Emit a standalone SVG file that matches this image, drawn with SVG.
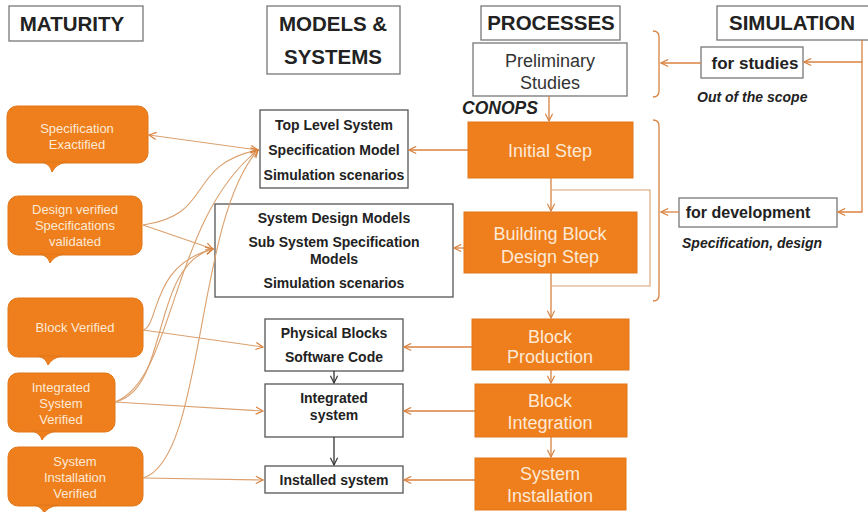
<svg xmlns="http://www.w3.org/2000/svg" width="868" height="512" viewBox="0 0 868 512">
<defs>
<marker id="ah" viewBox="0 0 10 10" refX="9" refY="5" markerWidth="9" markerHeight="9" markerUnits="userSpaceOnUse" orient="auto-start-reverse">
<path d="M1,1 L9,5 L1,9" fill="none" stroke="#d9823f" stroke-width="1.3"/>
</marker>
<marker id="ahk" viewBox="0 0 10 10" refX="9" refY="5" markerWidth="9" markerHeight="9" markerUnits="userSpaceOnUse" orient="auto">
<path d="M1,1 L9,5 L1,9" fill="none" stroke="#333" stroke-width="1.3"/>
</marker>
</defs>
<style>
.hdr{fill:#fff;stroke:#777;stroke-width:1.3}
.ht{font-family:"Liberation Sans",Arial,sans-serif;font-weight:bold;font-size:20.5px;fill:#222;text-anchor:middle}
.box{fill:#fff;stroke:#555;stroke-width:1.3}
.bt{font-family:"Liberation Sans",Arial,sans-serif;font-weight:bold;font-size:14px;fill:#222;text-anchor:middle}
.proc{fill:#ee7f1c;stroke:#e0761a;stroke-width:1}
.pt{font-family:"Liberation Sans",Arial,sans-serif;font-size:18px;fill:#fde9d6;text-anchor:middle}
.cal{fill:#ee7f1c;stroke:#e0761a;stroke-width:1}
.ct{font-family:"Liberation Sans",Arial,sans-serif;font-size:13px;fill:#fde9d6;text-anchor:middle}
.ln{fill:none;stroke:#d9823f;stroke-width:1.3}
.thin{fill:none;stroke:#dba06e;stroke-width:1.1}
.it{font-family:"Liberation Sans",Arial,sans-serif;font-weight:bold;font-style:italic;fill:#222}
</style>
<rect width="868" height="512" fill="#fff"/>

<g id="hdr-maturity"><rect class="hdr" x="9" y="6" width="134" height="35"/><text class="ht" x="72" y="31">MATURITY</text></g>
<g id="hdr-models"><rect class="hdr" x="267" y="6" width="133" height="68"/><text class="ht" x="333" y="31">MODELS &amp;</text><text class="ht" x="333" y="64">SYSTEMS</text></g>
<g id="hdr-processes"><rect class="hdr" x="481" y="6" width="139" height="34"/><text class="ht" x="551" y="30" font-size="20">PROCESSES</text></g>
<g id="hdr-simulation"><rect class="hdr" x="717" y="6" width="155" height="34"/><text class="ht" x="792" y="30">SIMULATION</text></g>

<g id="prelim"><rect class="hdr" x="473" y="43" width="154" height="53"/>
<text x="550" y="67" font-family="Liberation Sans,Arial,sans-serif" font-size="18" fill="#333" text-anchor="middle">Preliminary</text>
<text x="550" y="89" font-family="Liberation Sans,Arial,sans-serif" font-size="18" fill="#333" text-anchor="middle">Studies</text></g>
<text class="it" x="462" y="114" font-size="17.5">CONOPS</text>

<g id="initial"><rect class="proc" x="468" y="122" width="165" height="56"/><text class="pt" x="550" y="157">Initial Step</text></g>
<g id="bbd"><rect class="proc" x="464" y="212" width="173" height="61"/><text class="pt" x="550" y="240">Building Block</text><text class="pt" x="550" y="263">Design Step</text></g>
<g id="bprod"><rect class="proc" x="472" y="319" width="157" height="51"/><text class="pt" x="550" y="343">Block</text><text class="pt" x="550" y="363">Production</text></g>
<g id="binteg"><rect class="proc" x="475" y="384" width="152" height="53"/><text class="pt" x="550" y="407">Block</text><text class="pt" x="550" y="429">Integration</text></g>
<g id="sysinst"><rect class="proc" x="475" y="458" width="151" height="52"/><text class="pt" x="550" y="480">System</text><text class="pt" x="550" y="502">Installation</text></g>

<g id="toplevel"><rect class="box" x="260" y="110" width="148" height="78"/>
<text class="bt" x="334" y="130">Top Level System</text><text class="bt" x="334" y="155">Specification Model</text><text class="bt" x="334" y="180">Simulation scenarios</text></g>
<g id="sysdesign"><rect class="box" x="215" y="204" width="238" height="93"/>
<text class="bt" x="334" y="223">System Design Models</text><text class="bt" x="334" y="247">Sub System Specification</text><text class="bt" x="334" y="264">Models</text><text class="bt" x="334" y="288">Simulation scenarios</text></g>
<g id="physical"><rect class="box" x="265" y="319" width="138" height="52"/>
<text class="bt" x="334" y="338">Physical Blocks</text><text class="bt" x="334" y="362">Software Code</text></g>
<g id="integrated"><rect class="box" x="265" y="384" width="138" height="53"/>
<text class="bt" x="334" y="403">Integrated</text><text class="bt" x="334" y="420">system</text></g>
<g id="installed"><rect class="box" x="265" y="466" width="138" height="27"/>
<text class="bt" x="334" y="485">Installed system</text></g>

<g id="forstudies"><rect class="hdr" x="701" y="47" width="102" height="31"/><text x="755" y="69" font-family="Liberation Sans,Arial,sans-serif" font-weight="bold" font-size="17" fill="#222" text-anchor="middle">for studies</text></g>
<text class="it" x="697" y="102" font-size="14">Out of the scope</text>
<g id="fordev"><rect class="hdr" x="679" y="198" width="158" height="29"/><text x="748" y="218" font-family="Liberation Sans,Arial,sans-serif" font-weight="bold" font-size="16" fill="#222" text-anchor="middle">for development</text></g>
<text class="it" x="682" y="248" font-size="14">Specification, design</text>

<g id="m-specex"><rect class="cal" x="7" y="106" width="141" height="57" rx="10"/><path class="cal" d="M42,162 Q50,164 52,172 Q56,164 66,162 Z" stroke="none"/>
<text class="ct" x="77" y="133">Specification</text><text class="ct" x="77" y="149">Exactified</text></g>
<g id="m-design"><rect class="cal" x="8" y="196" width="134" height="59" rx="10"/><path class="cal" d="M40,254 Q48,256 50,263 Q54,256 64,254 Z" stroke="none"/>
<text class="ct" x="75" y="214">Design verified</text><text class="ct" x="75" y="230">Specifications</text><text class="ct" x="75" y="246">validated</text></g>
<g id="m-block"><rect class="cal" x="8" y="298" width="135" height="59" rx="10"/><path class="cal" d="M38,356 Q46,358 48,365 Q52,358 62,356 Z" stroke="none"/>
<text class="ct" x="75" y="332">Block Verified</text></g>
<g id="m-integ"><rect class="cal" x="8" y="373" width="107" height="59" rx="10"/><path class="cal" d="M32,431 Q40,433 42,440 Q46,433 56,431 Z" stroke="none"/>
<text class="ct" x="61" y="392">Integrated</text><text class="ct" x="61" y="408">System</text><text class="ct" x="61" y="424">Verified</text></g>
<g id="m-inst"><rect class="cal" x="8" y="447" width="135" height="59" rx="10"/><path class="cal" d="M34,505 Q42,507 44,513 Q48,507 58,505 Z" stroke="none"/>
<text class="ct" x="75" y="466">System</text><text class="ct" x="75" y="482">Installation</text><text class="ct" x="75" y="498">Verified</text></g>

<g id="connectors">
<line class="ln" x1="549" y1="96" x2="549" y2="121" marker-end="url(#ah)"/>
<line class="ln" x1="551" y1="178" x2="551" y2="211" marker-end="url(#ah)"/>
<line class="ln" x1="551" y1="273" x2="551" y2="318" marker-end="url(#ah)"/>
<line class="ln" x1="551" y1="370" x2="551" y2="383" marker-end="url(#ah)"/>
<line class="ln" x1="551" y1="437" x2="551" y2="457" marker-end="url(#ah)"/>
<path class="thin" d="M551,190 H650 V286 H551"/>
<line class="ln" x1="468" y1="150" x2="409" y2="150" marker-end="url(#ah)"/>
<line class="ln" x1="464" y1="248" x2="454" y2="248" marker-end="url(#ah)"/>
<line class="ln" x1="472" y1="347" x2="404" y2="347" marker-end="url(#ah)"/>
<line class="ln" x1="475" y1="411" x2="404" y2="411" marker-end="url(#ah)"/>
<line class="ln" x1="475" y1="480" x2="404" y2="480" marker-end="url(#ah)"/>
<line x1="334" y1="371" x2="334" y2="383" stroke="#333" stroke-width="1.3" marker-end="url(#ahk)"/>
<line x1="334" y1="437" x2="334" y2="465" stroke="#333" stroke-width="1.3" marker-end="url(#ahk)"/>

<path class="ln" d="M653,31 Q659,31 659,37 V91 Q659,97 653,97"/>
<path class="ln" d="M653,120 Q659,120 659,126 V295 Q659,301 653,301"/>
<line class="ln" x1="701" y1="63" x2="661" y2="63" marker-end="url(#ah)"/>
<line class="ln" x1="679" y1="212" x2="661" y2="212" marker-end="url(#ah)"/>
<path class="ln" d="M862,40 V212 H838" marker-end="url(#ah)"/>
<line class="ln" x1="862" y1="62" x2="804" y2="62" marker-end="url(#ah)"/>

<line class="thin" x1="149" y1="135" x2="258" y2="150" marker-start="url(#ah)" marker-end="url(#ah)"/>
<path class="thin" d="M143,225 C215,215 185,165 258,150" marker-end="url(#ah)"/>
<line class="thin" x1="143" y1="225" x2="213" y2="249" marker-end="url(#ah)"/>
<line class="thin" x1="143" y1="330" x2="263" y2="347" marker-end="url(#ah)"/>
<line class="thin" x1="115" y1="402" x2="263" y2="411" marker-end="url(#ah)"/>
<line class="thin" x1="143" y1="478" x2="263" y2="480" marker-end="url(#ah)"/>
<path class="thin" d="M143,330 C160,325 150,265 213,249" marker-end="url(#ah)"/>
<path class="thin" d="M115,402 C170,390 150,265 213,249" marker-end="url(#ah)"/>
<path class="thin" d="M115,402 C175,380 170,220 258,150" marker-end="url(#ah)"/>
<path class="thin" d="M143,478 C205,460 195,220 258,150" marker-end="url(#ah)"/>
</g>
</svg>
